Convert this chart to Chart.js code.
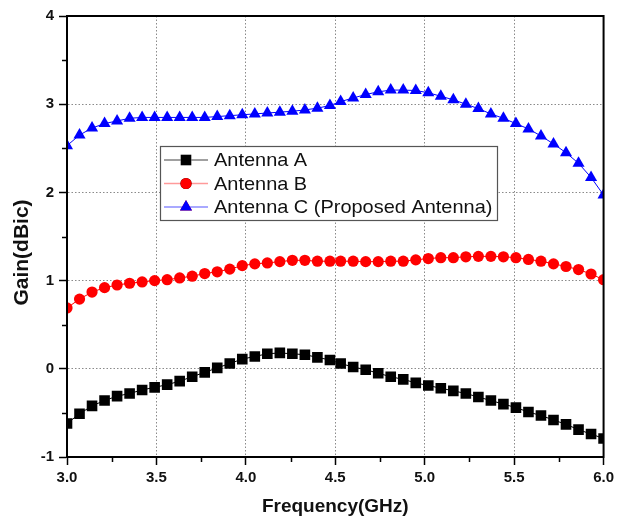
<!DOCTYPE html>
<html>
<head>
<meta charset="utf-8">
<script src="https://cdn.jsdelivr.net/npm/chart.js@4"></script>
<style>
  html, body { margin: 0; padding: 0; background: #fff; }
  #wrap { width: 618px; height: 521px; }
</style>
</head>
<body>
<div id="wrap"><canvas id="gainChart" width="618" height="521"></canvas></div>
<script>
// sweep frequencies (GHz)
const freqs = [3.00, 3.07, 3.14, 3.21, 3.28, 3.35, 3.42, 3.49, 3.56, 3.63, 3.70,
  3.77, 3.84, 3.91, 3.98, 4.05, 4.12, 4.19, 4.26, 4.33, 4.40, 4.47, 4.53, 4.60,
  4.67, 4.74, 4.81, 4.88, 4.95, 5.02, 5.09, 5.16, 5.23, 5.30, 5.37, 5.44, 5.51,
  5.58, 5.65, 5.72, 5.79, 5.86, 5.93, 6.00];

const gainA = [-0.62, -0.51, -0.42, -0.36, -0.31, -0.28, -0.24, -0.21, -0.18, -0.14,
  -0.09, -0.04, 0.01, 0.06, 0.11, 0.14, 0.17, 0.18, 0.17, 0.16, 0.13, 0.10, 0.06,
  0.02, -0.01, -0.05, -0.09, -0.12, -0.16, -0.19, -0.22, -0.25, -0.28, -0.32, -0.36,
  -0.40, -0.44, -0.49, -0.53, -0.58, -0.63, -0.69, -0.74, -0.79];

const gainB = [0.69, 0.79, 0.87, 0.92, 0.95, 0.97, 0.985, 1.00, 1.01, 1.03, 1.05,
  1.08, 1.10, 1.13, 1.17, 1.19, 1.20, 1.215, 1.23, 1.23, 1.22, 1.22, 1.22, 1.22,
  1.215, 1.215, 1.22, 1.22, 1.235, 1.25, 1.26, 1.26, 1.27, 1.275, 1.275, 1.27, 1.26,
  1.24, 1.22, 1.19, 1.16, 1.125, 1.075, 1.01];

const gainC = [2.53, 2.65, 2.73, 2.78, 2.81, 2.84, 2.85, 2.85, 2.85, 2.85, 2.85,
  2.85, 2.86, 2.87, 2.88, 2.89, 2.90, 2.91, 2.92, 2.935, 2.955, 2.985, 3.03, 3.07,
  3.11, 3.14, 3.16, 3.16, 3.155, 3.13, 3.09, 3.05, 3.00, 2.95, 2.89, 2.84, 2.78,
  2.72, 2.64, 2.55, 2.45, 2.33, 2.17, 1.97];

const seriesNames = ['Antenna A', 'Antenna B', 'Antenna C (Proposed Antenna)'];
const markColors = ['#000000', '#ff0000', '#0000ff'];
const legendLineColors = ['#808080', '#ff9a9a', '#8c8cff'];
const markStyles = ['rect', 'circle', 'triangle'];
const markRadius = [7.5, 5.6, 7];

function toPoints(ys) {
  return ys.map((y, i) => ({ x: freqs[i], y: y }));
}

const fontFam = 'Arial, "Liberation Sans", sans-serif';

// box, minor ticks, y title and the inset legend
const framePlugin = {
  id: 'frame',
  afterDraw(chart) {
    const ctx = chart.ctx;
    const a = chart.chartArea;
    const xs = chart.scales.x, ys = chart.scales.y;
    ctx.save();
    ctx.strokeStyle = '#000';
    ctx.lineWidth = 2;
    ctx.strokeRect(a.left, a.top, a.right - a.left, a.bottom - a.top);

    // minor ticks
    ctx.lineWidth = 1.5;
    ctx.beginPath();
    for (let v = 3.25; v < 6; v += 0.5) {
      const px = Math.round(xs.getPixelForValue(v)) + 0.5;
      ctx.moveTo(px, a.bottom);
      ctx.lineTo(px, a.bottom + 5);
    }
    for (let v = -0.5; v < 4; v += 1) {
      const py = Math.round(ys.getPixelForValue(v)) + 0.5;
      ctx.moveTo(a.left, py);
      ctx.lineTo(a.left - 5, py);
    }
    ctx.stroke();

    // y axis title, sits a little below the axis middle
    ctx.save();
    ctx.translate(22, a.top + (a.bottom - a.top) / 2 + 16);
    ctx.rotate(-Math.PI / 2);
    ctx.font = 'bold 21px ' + fontFam;
    ctx.fillStyle = '#111';
    ctx.textAlign = 'center';
    ctx.textBaseline = 'middle';
    ctx.fillText('Gain(dBic)', 0, 0);
    ctx.restore();

    // legend
    const bx = a.left + 93, by = a.top + 130, bw = 337, bh = 74;
    ctx.fillStyle = '#fff';
    ctx.fillRect(bx, by, bw, bh);
    ctx.strokeStyle = '#555';
    ctx.lineWidth = 1.2;
    ctx.strokeRect(bx + 0.5, by + 0.5, bw, bh);
    ctx.textBaseline = 'middle';
    chart.data.datasets.forEach((ds, i) => {
      const ry = by + 14 + i * 23.5;
      ctx.strokeStyle = legendLineColors[i];
      ctx.lineWidth = 1.5;
      ctx.beginPath();
      ctx.moveTo(bx + 4, ry);
      ctx.lineTo(bx + 48, ry);
      ctx.stroke();
      Chart.helpers.drawPoint(ctx, {
        pointStyle: markStyles[i],
        radius: markRadius[i],
        borderWidth: 0,
        rotation: 0
      }, bx + 26, ry);
      ctx.fillStyle = markColors[i];
      ctx.fill();
      // legend lettering runs a bit wide
      ctx.save();
      ctx.translate(bx + 54, ry + 1);
      ctx.scale(1.05, 1);
      ctx.font = '19px ' + fontFam;
      ctx.fillStyle = '#111';
      ctx.fillText(ds.label, 0, 0);
      ctx.restore();
    });
    ctx.restore();
  }
};

const datasets = [gainA, gainB, gainC].map((g, i) => ({
  label: seriesNames[i],
  data: toPoints(g),
  borderColor: markColors[i],
  borderWidth: 1,
  backgroundColor: markColors[i],
  pointStyle: markStyles[i],
  pointRadius: markRadius[i],
  pointBorderWidth: 0,
  pointBackgroundColor: markColors[i],
  tension: 0,
  clip: 0
}));

function edgeGrid(scale) {
  return (c) => {
    const v = c.tick ? c.tick.value : null;
    if (v === scale.min || v === scale.max) return 'rgba(0,0,0,0)';
    return '#8a8a8a';
  };
}

const xOpts = { min: 3, max: 6 };
const yOpts = { min: -1, max: 4 };

new Chart(document.getElementById('gainChart').getContext('2d'), {
  type: 'scatter',
  data: { datasets: datasets },
  plugins: [framePlugin],
  options: {
    responsive: false,
    animation: false,
    showLine: true,
    layout: { padding: { top: 16, right: 12, left: 0, bottom: 0 } },
    plugins: {
      legend: { display: false },
      tooltip: { enabled: false }
    },
    scales: {
      x: {
        type: 'linear',
        min: xOpts.min,
        max: xOpts.max,
        afterFit(scale) { scale.height = 64; },
        ticks: {
          stepSize: 0.5,
          color: '#111',
          padding: 4,
          maxRotation: 0,
          font: { family: fontFam, size: 15, weight: 'bold' },
          callback: (v) => Number(v).toFixed(1)
        },
        grid: {
          color: edgeGrid(xOpts),
          lineWidth: 1,
          drawTicks: true,
          tickLength: 8,
          tickColor: '#000',
          tickWidth: 1.5
        },
        border: { display: true, color: '#000', width: 2, dash: [1.5, 2] },
        title: {
          display: true,
          text: 'Frequency(GHz)',
          color: '#111',
          font: { family: fontFam, size: 19, weight: 'bold' },
          padding: { top: 0, bottom: 3 }
        }
      },
      y: {
        type: 'linear',
        min: yOpts.min,
        max: yOpts.max,
        afterFit(scale) { scale.width = 67; },
        ticks: {
          stepSize: 1,
          color: '#111',
          padding: 5,
          font: { family: fontFam, size: 15, weight: 'bold' },
          callback: (v) => String(v)
        },
        grid: {
          color: edgeGrid(yOpts),
          lineWidth: 1,
          drawTicks: true,
          tickLength: 8,
          tickColor: '#000',
          tickWidth: 1.5
        },
        border: { display: true, color: '#000', width: 2, dash: [1.5, 2] },
        title: { display: false }
      }
    }
  }
});
</script>
</body>
</html>
